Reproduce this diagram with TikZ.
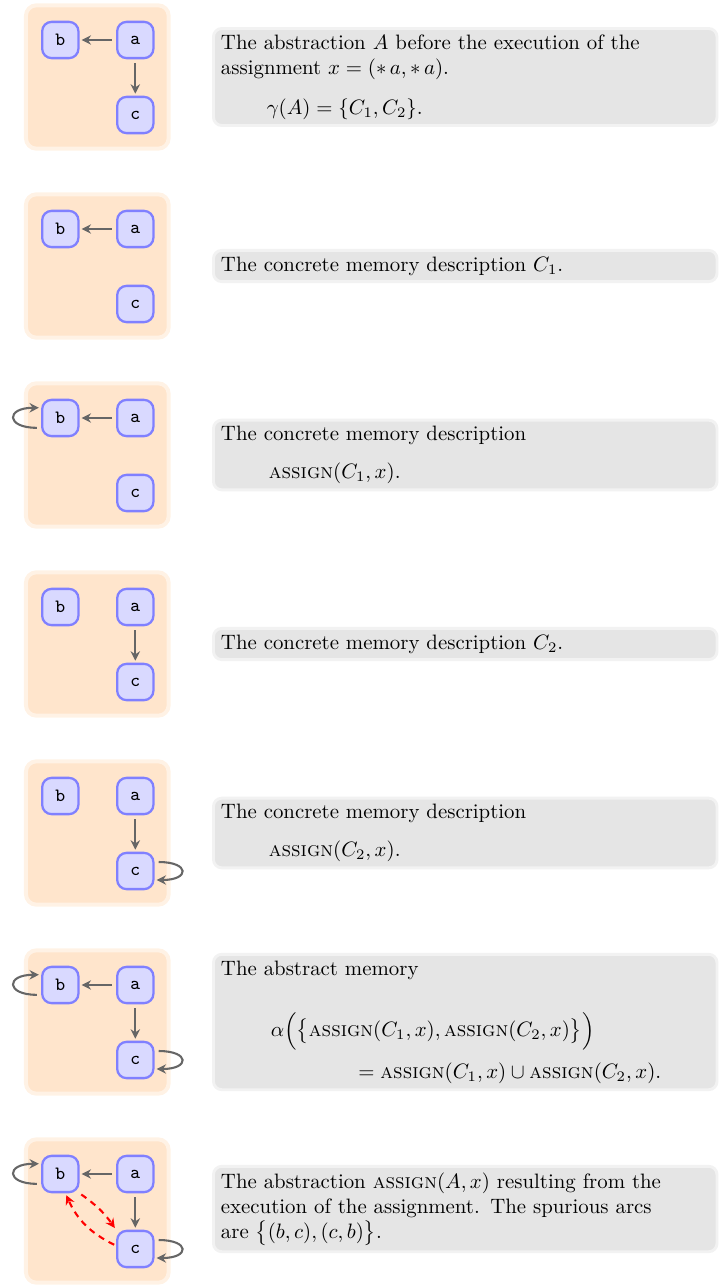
\documentclass[tikz,border=0pt]{standalone}
\usepackage{amsmath,amssymb}
\usepackage{xcolor}
\usepackage{tikz}
\usetikzlibrary{arrows.meta,positioning}

\begin{document}
\begin{tikzpicture}[
    x=0.48pt, y=0.48pt,
    >={Stealth[length=4.5pt,width=4.5pt]},
    link/.style={->,line width=1pt,draw=black!60,shorten >=1pt,shorten <=2pt},
    spurious/.style={->,line width=1pt,draw=red,dash pattern=on 3pt off 2.5pt,
      shorten >=1pt,shorten <=1pt},
    cell/.style={draw=blue!50,fill=blue!15,line width=1.1pt,rounded corners=4.5pt,
      minimum size=17.4pt,inner sep=0pt,font=\ttfamily\small},
    panel/.style={draw=orange!10,fill=orange!20,line width=1.9pt,rounded corners=5pt,
      minimum width=68.5pt,minimum height=68.8pt},
    caption/.style={draw=black!5,fill=black!10,line width=1.4pt,rounded corners=4pt,
      anchor=west,text width=234.5pt,align=left,inner xsep=3.6pt,inner ysep=3pt}
  ]
    \useasboundingbox (0,0) rectangle (719,-1285);

    % abstraction A
    \node[panel] (p1) at (97.3,-77) {};
    \node[cell] (a1) at (135.3,-40) {a};
    \node[cell,left=17.5pt of a1] (b1) {b};
    \node[cell,below=17.5pt of a1] (c1) {c};
    \draw[link] (a1) -- (b1);
    \draw[link] (a1) -- (c1);
    \node[caption] (t1) at (212,-77)
      {The abstraction $A$ before the execution of the\\
       assignment $x=(*\,a,*\,a)$.\\[7pt]
       \hspace*{22pt}$\gamma(A)=\{C_1,C_2\}$.};

    % C1
    \node[panel] (p2) at (97.3,-266) {};
    \node[cell] (a2) at (135.3,-229) {a};
    \node[cell,left=17.5pt of a2] (b2) {b};
    \node[cell,below=17.5pt of a2] (c2) {c};
    \draw[link] (a2) -- (b2);
    \node[caption] (t2) at (212,-266)
      {The concrete memory description $C_1$.};

    % assign(C1,x)
    \node[panel] (p3) at (97.3,-455) {};
    \node[cell] (a3) at (135.3,-418) {a};
    \node[cell,left=17.5pt of a3] (b3) {b};
    \node[cell,below=17.5pt of a3] (c3) {c};
    \draw[link] (a3) -- (b3);
    \draw[link] (b3.207) to[out=180,in=180,min distance=17pt] (b3.152);
    \node[caption] (t3) at (212,-455)
      {The concrete memory description\\[6pt]
       \hspace*{23pt}$\textsc{assign}(C_1,x)$.};

    % C2
    \node[panel] (p4) at (97.3,-644) {};
    \node[cell] (a4) at (135.3,-607) {a};
    \node[cell,left=17.5pt of a4] (b4) {b};
    \node[cell,below=17.5pt of a4] (c4) {c};
    \draw[link] (a4) -- (c4);
    \node[caption] (t4) at (212,-644)
      {The concrete memory description $C_2$.};

    % assign(C2,x)
    \node[panel] (p5) at (97.3,-833) {};
    \node[cell] (a5) at (135.3,-796) {a};
    \node[cell,left=17.5pt of a5] (b5) {b};
    \node[cell,below=17.5pt of a5] (c5) {c};
    \draw[link] (a5) -- (c5);
    \draw[link] (c5.25) to[out=0,in=0,min distance=17pt] (c5.-25);
    \node[caption] (t5) at (212,-833)
      {The concrete memory description\\[6pt]
       \hspace*{23pt}$\textsc{assign}(C_2,x)$.};

    % abstract memory
    \node[panel] (p6) at (97.3,-1022) {};
    \node[cell] (a6) at (135.3,-985) {a};
    \node[cell,left=17.5pt of a6] (b6) {b};
    \node[cell,below=17.5pt of a6] (c6) {c};
    \draw[link] (a6) -- (b6);
    \draw[link] (a6) -- (c6);
    \draw[link] (b6.207) to[out=180,in=180,min distance=17pt] (b6.152);
    \draw[link] (c6.25) to[out=0,in=0,min distance=17pt] (c6.-25);
    \node[caption] (t6) at (212,-1022)
      {The abstract memory\\[15pt]
       \hspace*{24pt}$\alpha\Bigl(\bigl\{\textsc{assign}(C_1,x),\textsc{assign}(C_2,x)\bigr\}\Bigr)$\\[5pt]
       \hspace*{66pt}$=\textsc{assign}(C_1,x)\cup\textsc{assign}(C_2,x)$.};

    % assign(A,x)
    \node[panel] (p7) at (97.3,-1211) {};
    \node[cell] (a7) at (135.3,-1174) {a};
    \node[cell,left=17.5pt of a7] (b7) {b};
    \node[cell,below=17.5pt of a7] (c7) {c};
    \draw[link] (a7) -- (b7);
    \draw[link] (a7) -- (c7);
    \draw[link] (b7.207) to[out=180,in=180,min distance=17pt] (b7.152);
    \draw[link] (c7.25) to[out=0,in=0,min distance=17pt] (c7.-25);
    \draw[spurious] (b7.south east) to[bend left=10] (c7.north west);
    \draw[spurious] (c7.170) to[bend left=20] (b7.-75);
    \node[caption] (t7) at (212,-1209)
      {The abstraction $\textsc{assign}(A,x)$ resulting from the\\
       execution of the assignment. The spurious arcs\\
       are $\bigl\{(b,c),(c,b)\bigr\}$.};
  \end{tikzpicture}
\end{document}
